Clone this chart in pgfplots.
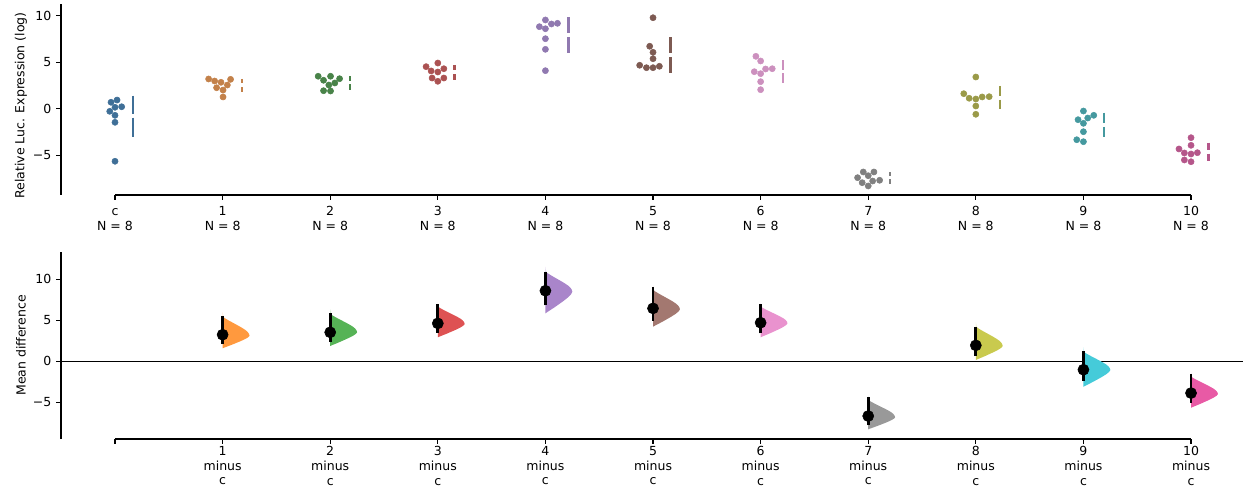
\documentclass[border=0pt]{standalone}
\usepackage{pgfplots}
\pgfplotsset{compat=1.18}
\usepackage{pgfplotstable}
\usepackage{fontspec}
\setmainfont{DejaVu Sans}

\definecolor{sc0}{HTML}{3F6F97}
\definecolor{sc1}{HTML}{C3814A}
\definecolor{sc2}{HTML}{498349}
\definecolor{sc3}{HTML}{AB5252}
\definecolor{sc4}{HTML}{9079B0}
\definecolor{sc5}{HTML}{7D5A52}
\definecolor{sc6}{HTML}{CC90BE}
\definecolor{sc7}{HTML}{808080}
\definecolor{sc8}{HTML}{9A9A48}
\definecolor{sc9}{HTML}{45999F}
\definecolor{sc10}{HTML}{B5568A}

\definecolor{vc1}{HTML}{FF993E}
\definecolor{vc2}{HTML}{56B356}
\definecolor{vc3}{HTML}{DE5253}
\definecolor{vc4}{HTML}{A985CA}
\definecolor{vc5}{HTML}{A37870}
\definecolor{vc6}{HTML}{E992CE}
\definecolor{vc7}{HTML}{999999}
\definecolor{vc8}{HTML}{C9CA4E}
\definecolor{vc9}{HTML}{45CBD9}
\definecolor{vc10}{HTML}{E85AA5}

% normalised half-violin outline: a = lower part (-1..0), b = upper part (0..1), w = width
\pgfplotstableread{
a b w
-1 0 0
-0.93 0 0.08
-0.85 0 0.18
-0.72 0 0.34
-0.58 0 0.50
-0.42 0 0.68
-0.26 0 0.84
-0.12 0 0.95
0 0 1
0 0.1 0.98
0 0.2 0.93
0 0.3 0.85
0 0.4 0.74
0 0.5 0.62
0 0.6 0.49
0 0.7 0.36
0 0.8 0.23
0 0.9 0.11
0 1 0
}\shapetab

% faint upper tail of the bootstrap distribution
\pgfplotstableread{
a b w
0 0.92 0
0 0.92 0.07
0 1.0 0.035
0 1.12 0.015
0 1.25 0
}\tailtab

\newcommand{\violin}[5]{%
  \addplot[draw=none, fill=#5, fill opacity=0.35] table[x expr={#1+0.25*\thisrow{w}},
    y expr={#3+\thisrow{a}*((#3)-(#2))+\thisrow{b}*((#4)-(#3))}] {\tailtab};
  \addplot[draw=none, fill=#5] table[x expr={#1+0.25*\thisrow{w}},
    y expr={#3+\thisrow{a}*((#3)-(#2))+\thisrow{b}*((#4)-(#3))}] {\shapetab};}

\pgfplotsset{
  dabest/.style={
    scale only axis, width=851.04pt,
    xmin=-0.502, xmax=10.483,
    axis x line=bottom, axis y line=left,
    axis line style={-, line width=0.8pt, black},
    x axis line style={draw=none},
    tick align=outside, major tick length=3.5pt,
    tick style={line width=0.8pt, black},
    xtick={0,1,2,3,4,5,6,7,8,9,10},
    ytick={-5,0,5,10}, yticklabels={−5,0,5,10},
    ticklabel style={font=\fontsize{9}{10.5}\selectfont},
    xticklabel style={align=center, inner ysep=1.8pt},
    clip=false,
    every axis y label/.style={at={(axis description cs:-0.0338,0.5)},
      rotate=90, anchor=center, font=\fontsize{9}{11}\selectfont},
  }
}

\begin{document}
\begin{tikzpicture}
\path[use as bounding box] (0,0) rectangle (894.96pt,351.36pt);

% ---------------- top: swarm plot ----------------
\begin{axis}[dabest,
  at={(43.92pt,210.96pt)}, anchor=south west, height=137.16pt,
  ymin=-9.26, ymax=11.18,
  ylabel={Relative Luc. Expression (log)},
  every axis y label/.append style={at={(axis description cs:-0.0338,0.47)}},
  xticklabel style={font=\fontsize{9}{11}\selectfont, inner ysep=4.2pt},
  xticklabels={{\vphantom{1}c\\N = 8},{1\\N = 8},{2\\N = 8},{3\\N = 8},{4\\N = 8},{5\\N = 8},{6\\N = 8},{7\\N = 8},{8\\N = 8},{9\\N = 8},{10\\N = 8}},
  unbounded coords=jump,
]
\draw[line width=0.8pt] (axis cs:0,-9.26) -- (axis cs:10,-9.26);

\addplot[only marks, mark=*, mark size=2.2pt, sc0, mark options={fill=sc0, draw=none}] coordinates {(-0.037,0.69) (0.019,0.93) (-0.049,-0.28) (0,0.15) (0.062,0.21) (0,-0.71) (0,-1.46) (0,-5.64)};
\addplot[only marks, mark=*, mark size=2.2pt, sc1, mark options={fill=sc1, draw=none}] coordinates {(0.870,3.19) (0.926,2.97) (0.985,2.83) (1.074,3.15) (0.944,2.25) (1.044,2.54) (1.004,2.0) (1.004,1.26)};
\addplot[only marks, mark=*, mark size=2.2pt, sc2, mark options={fill=sc2, draw=none}] coordinates {(1.888,3.48) (1.938,3.05) (2.003,3.48) (2.087,3.22) (1.987,2.54) (2.043,2.76) (1.938,1.93) (2.003,1.90)};
\addplot[only marks, mark=*, mark size=2.2pt, sc3, mark options={fill=sc3, draw=none}] coordinates {(2.891,4.51) (3,4.90) (3.056,4.29) (2.938,4.05) (3,3.94) (2.947,3.29) (3.056,3.29) (3,2.94)};
\addplot[only marks, mark=*, mark size=2.2pt, sc4, mark options={fill=sc4, draw=none}] coordinates {(4,9.52) (3.944,8.80) (4,8.58) (4.056,9.09) (4.112,9.16) (4,7.51) (4,6.37) (4,4.08)};
\addplot[only marks, mark=*, mark size=2.2pt, sc5, mark options={fill=sc5, draw=none}] coordinates {(5,9.76) (4.969,6.70) (5,6.05) (5,5.36) (4.876,4.66) (4.939,4.40) (5,4.40) (5.059,4.55)};
\addplot[only marks, mark=*, mark size=2.2pt, sc6, mark options={fill=sc6, draw=none}] coordinates {(5.956,5.62) (6,5.12) (5.941,3.97) (6,3.76) (6.046,4.26) (6.108,4.29) (6,2.90) (6,2.04)};
\addplot[only marks, mark=*, mark size=2.2pt, sc7, mark options={fill=sc7, draw=none}] coordinates {(6.954,-6.79) (7.053,-6.79) (6.901,-7.40) (7,-7.19) (7.106,-7.68) (6.944,-7.94) (7.041,-7.76) (7,-8.29)};
\addplot[only marks, mark=*, mark size=2.2pt, sc8, mark options={fill=sc8, draw=none}] coordinates {(8,3.40) (7.888,1.61) (7.938,1.12) (8,1.04) (8.059,1.26) (8.124,1.29) (8,0.29) (8,-0.60)};
\addplot[only marks, mark=*, mark size=2.2pt, sc9, mark options={fill=sc9, draw=none}] coordinates {(9,-0.25) (8.950,-1.18) (9.040,-1.0) (9.096,-0.71) (9,-1.57) (9,-2.47) (8.938,-3.33) (9,-3.54)};
\addplot[only marks, mark=*, mark size=2.2pt, sc10, mark options={fill=sc10, draw=none}] coordinates {(10,-3.11) (10,-3.93) (9.888,-4.32) (9.938,-4.75) (10,-4.86) (10.059,-4.72) (9.938,-5.50) (10,-5.69)};

% mean +/- sd gapped lines
\addplot[sc0, line width=1.6pt] coordinates {(0.164,1.40) (0.164,-0.56) (0.164,nan) (0.164,-0.96) (0.164,-3.0)};
\addplot[sc1, line width=1.6pt] coordinates {(1.177,3.2) (1.177,2.72) (1.177,nan) (1.177,2.32) (1.177,1.76)};
\addplot[sc2, line width=1.6pt] coordinates {(2.186,3.5) (2.186,3.0) (2.186,nan) (2.186,2.6) (2.186,2.04)};
\addplot[sc3, line width=1.6pt] coordinates {(3.154,4.69) (3.154,4.1) (3.154,nan) (3.154,3.7) (3.154,3.08)};
\addplot[sc4, line width=1.6pt] coordinates {(4.214,9.8) (4.214,8.09) (4.214,nan) (4.214,7.69) (4.214,5.94)};
\addplot[sc5, line width=1.6pt] coordinates {(5.162,7.66) (5.162,5.94) (5.162,nan) (5.162,5.54) (5.162,3.8)};
\addplot[sc6, line width=1.6pt] coordinates {(6.21,5.22) (6.21,4.2) (6.21,nan) (6.21,3.8) (6.21,2.72)};
\addplot[sc7, line width=1.6pt] coordinates {(7.204,-6.82) (7.204,-7.18) (7.204,nan) (7.204,-7.58) (7.204,-8.11)};
\addplot[sc8, line width=1.6pt] coordinates {(8.223,2.44) (8.223,1.38) (8.223,nan) (8.223,0.98) (8.223,-0.07)};
\addplot[sc9, line width=1.6pt] coordinates {(9.189,-0.43) (9.189,-1.56) (9.189,nan) (9.189,-1.96) (9.189,-3.07)};
\addplot[sc10, line width=1.6pt] coordinates {(10.162,-3.65) (10.162,-4.41) (10.162,nan) (10.162,-4.81) (10.162,-5.61)};
\end{axis}

% ---------------- bottom: mean differences ----------------
\begin{axis}[dabest,
  at={(43.92pt,35.28pt)}, anchor=south west, height=134.86pt,
  ymin=-9.47, ymax=13.37,
  ylabel={Mean difference},
  xticklabels={{},{1\\minus\\c},{2\\minus\\c},{3\\minus\\c},{4\\minus\\c},{5\\minus\\c},{6\\minus\\c},{7\\minus\\c},{8\\minus\\c},{9\\minus\\c},{10\\minus\\c}},
  unbounded coords=jump,
]
\draw[line width=0.8pt] (axis cs:0,-9.47) -- (axis cs:10,-9.47);
\addplot[black, line width=0.8pt] coordinates {(-0.502,0) (10.483,0)};

\violin{1}{1.59}{3.12}{5.44}{vc1}
\violin{2}{1.87}{3.54}{5.77}{vc2}
\violin{3}{2.93}{4.55}{6.66}{vc3}
\violin{4}{5.85}{8.49}{10.93}{vc4}
\violin{5}{4.22}{6.34}{8.70}{vc5}
\violin{6}{2.93}{4.63}{6.66}{vc6}
\violin{7}{-8.29}{-6.83}{-4.72}{vc7}
\violin{8}{0.16}{1.87}{4.22}{vc8}
\violin{9}{-3.10}{-1.06}{1.17}{vc9}
\violin{10}{-5.66}{-3.99}{-1.88}{vc10}

% 95% CIs
\addplot[black, line width=2pt] coordinates {
(1,2.11) (1,5.52) (1,nan)
(2,2.39) (2,5.93) (2,nan)
(3,3.49) (3,6.99) (3,nan)
(4,6.83) (4,10.85) (4,nan)
(5,4.95) (5,9.10) (5,nan)
(6,3.41) (6,6.99) (6,nan)
(7,-7.77) (7,-4.39) (7,nan)
(8,0.65) (8,4.15) (8,nan)
(9,-2.40) (9,1.26) (9,nan)
(10,-5.05) (10,-1.55)};
% mean differences
\addplot[only marks, mark=*, mark size=4pt, black] coordinates {
(1,3.25) (2,3.54) (3,4.63) (4,8.61) (5,6.46) (6,4.71) (7,-6.67) (8,1.95) (9,-1.02) (10,-3.87)};
\end{axis}
\end{tikzpicture}
\end{document}
